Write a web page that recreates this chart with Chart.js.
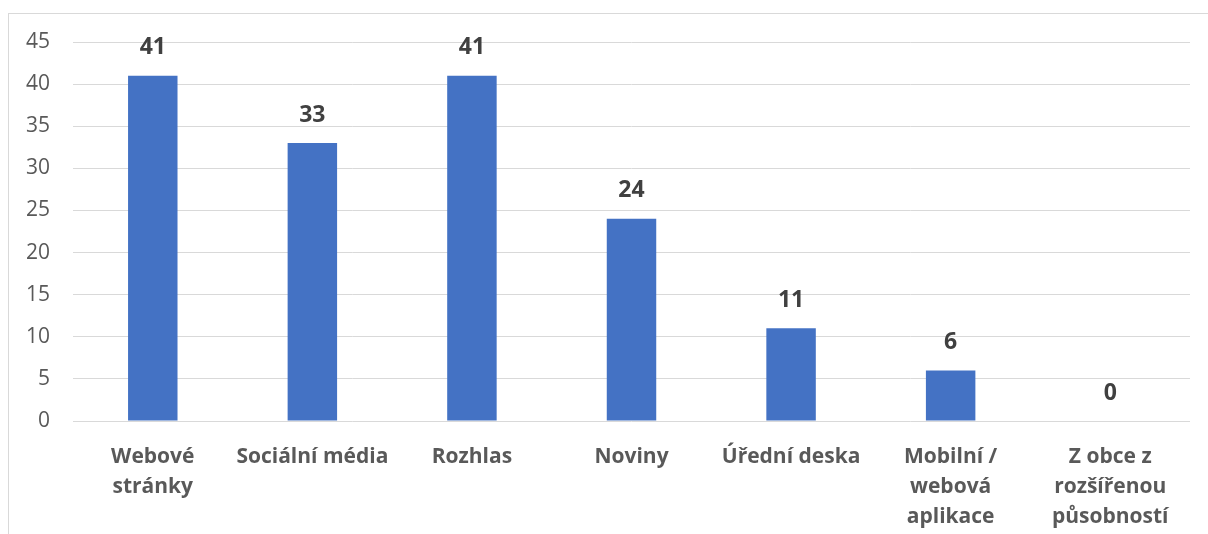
<!DOCTYPE html>
<html>
<head>
<meta charset="utf-8">
<script src="https://cdn.jsdelivr.net/npm/chart.js@4/dist/chart.umd.min.js"></script>
<style>
  body { margin: 0; background: #fff; overflow: hidden; }
  #frame { position: absolute; left: 8px; top: 13px; width: 1230px; height: 560px; border: 1px solid #d9d9d9; }
  #wrap { position: absolute; left: 0; top: 0; width: 1208px; height: 534px; }
</style>
</head>
<body>
<div id="frame"></div>
<div id="wrap"><canvas id="chart" width="1208" height="534"></canvas></div>
<script>
const categories = [
  ['Webové', 'stránky'],
  'Sociální média',
  'Rozhlas',
  'Noviny',
  'Úřední deska',
  ['Mobilní /', 'webová', 'aplikace'],
  ['Z obce z', 'rozšířenou', 'působností']
];
const values = [41, 33, 41, 24, 11, 6, 0];
const yTicks = { min: 0, max: 45, step: 5 };

// draws the value above each bar
const valueLabels = {
  id: 'valueLabels',
  afterDatasetsDraw(chart) {
    const ctx = chart.ctx;
    const meta = chart.getDatasetMeta(0);
    ctx.save();
    ctx.font = 'bold 23px "Open Sans"';
    ctx.fillStyle = '#404040';
    ctx.textAlign = 'center';
    ctx.textBaseline = 'middle';
    meta.data.forEach((bar, i) => {
      ctx.fillText(String(values[i]), bar.x, bar.y - 28);
    });
    ctx.restore();
  }
};

const ctx = document.getElementById('chart').getContext('2d');
new Chart(ctx, {
  type: 'bar',
  data: {
    labels: categories,
    datasets: [{
      data: values,
      backgroundColor: '#4472C4',
      borderWidth: 0,
      categoryPercentage: 1,
      barPercentage: 0.31
    }]
  },
  options: {
    responsive: false,
    animation: false,
    layout: { padding: { top: 42, right: 18, bottom: 0, left: 0 } },
    plugins: { legend: { display: false }, tooltip: { enabled: false } },
    scales: {
      x: {
        grid: { display: false },
        border: { display: false },
        ticks: {
          color: '#595959',
          font: { family: 'Open Sans', size: 21, weight: 'bold', lineHeight: '30px' },
          padding: 13,
          maxRotation: 0,
          autoSkip: false
        },
        afterFit(scale) { scale.height = 113; }
      },
      y: {
        min: yTicks.min,
        max: yTicks.max,
        grid: { color: '#d9d9d9', lineWidth: 1, drawTicks: false },
        border: { display: false },
        ticks: {
          stepSize: yTicks.step,
          color: '#595959',
          font: { family: 'Open Sans', size: 21 },
          padding: 23
        },
        afterFit(scale) { scale.width = 73; }
      }
    }
  },
  plugins: [valueLabels]
});
</script>
</body>
</html>
